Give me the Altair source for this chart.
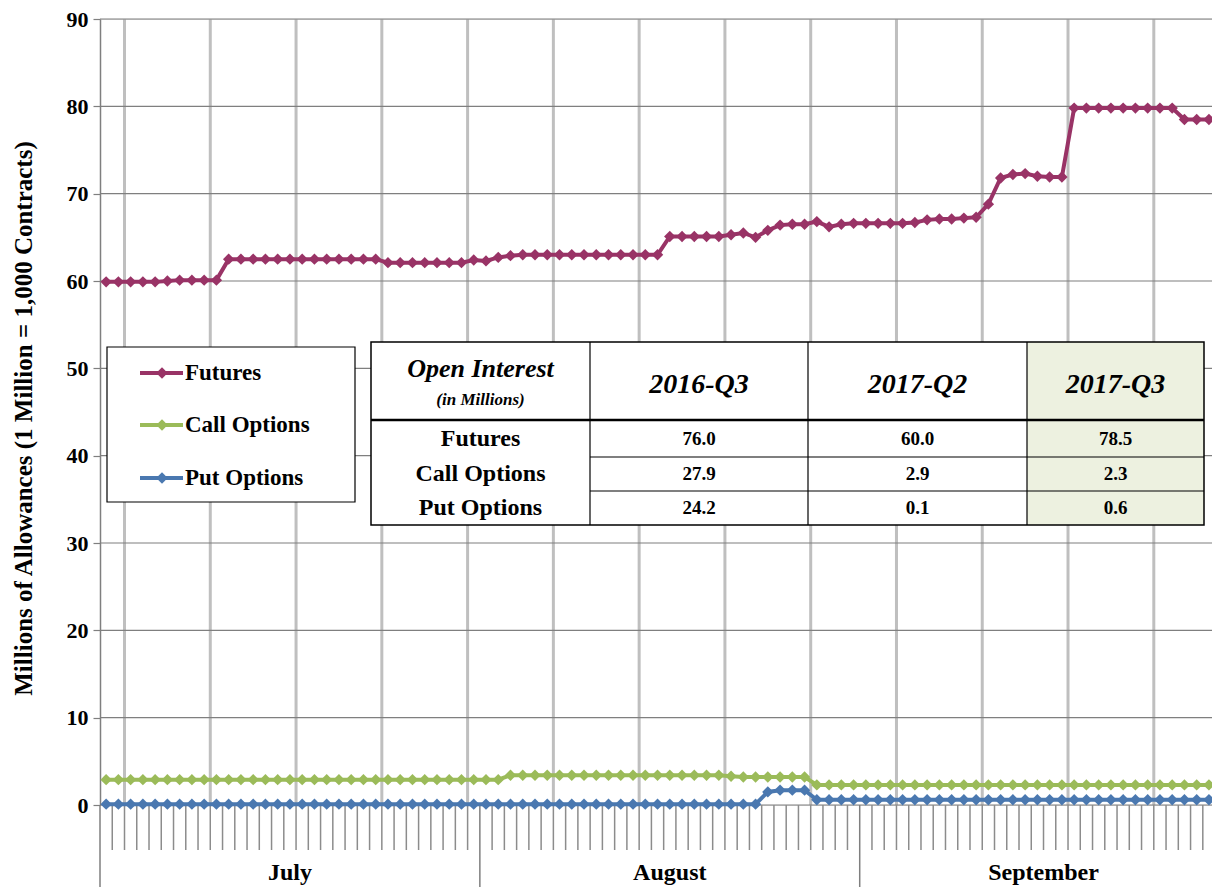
import altair as alt
import pandas as pd

# ---------------- data ----------------
months = ["July", "August", "September"]
month_days = [31, 31, 30]
series_names = ["Futures", "Call Options", "Put Options"]
series_colors = ["#993366", "#9BBB59", "#4A78B0"]

futures = ([59.9, 59.9, 59.9, 59.9, 59.9, 60.0, 60.1, 60.1, 60.1, 60.1]
           + [62.5] * 13 + [62.1] * 7
           + [62.4, 62.3, 62.7, 62.9] + [63.0] * 12
           + [65.1] * 5
           + [65.3, 65.5, 65.0, 65.8, 66.4, 66.5, 66.5, 66.8, 66.2, 66.5, 66.6]
           + [66.6] * 4
           + [66.7, 67.0, 67.1, 67.1, 67.2, 67.3]
           + [68.8, 71.8, 72.2, 72.3, 72.0, 71.9, 71.9]
           + [79.8] * 9 + [78.5] * 4)
calls = [2.9] * 33 + [3.4] * 18 + [3.3] + [3.2] * 6 + [2.3] * 34
puts = [0.1] * 54 + [1.5] + [1.7] * 3 + [0.6] * 34

y_ticks = [0, 10, 20, 30, 40, 50, 60, 70, 80, 90]

table_head = ["2016-Q3", "2017-Q2", "2017-Q3"]
table_rows = ["Futures", "Call Options", "Put Options"]
table_vals = [["76.0", "60.0", "78.5"],
              ["27.9", "2.9", "2.3"],
              ["24.2", "0.1", "0.6"]]

# ---------------- frames ----------------
n_days = sum(month_days)
rows = []
for name, vals in zip(series_names, [futures, calls, puts]):
    for i, v in enumerate(vals):
        rows.append({"day": i + 0.5, "value": v, "series": name})
df = pd.DataFrame(rows)

starts = [sum(month_days[:k]) for k in range(len(months))]
month_df = pd.DataFrame({
    "month": months,
    "mid": [s + d / 2 for s, d in zip(starts, month_days)],
})
sep_df = pd.DataFrame({"b": starts + [n_days]})
tick_df = pd.DataFrame({"b": [b for b in range(1, n_days) if b not in starts]})
week_df = pd.DataFrame({"b": list(range(2, n_days, 7))})
hgrid_df = pd.DataFrame({"v": y_ticks})

W, H = 1112, 786
FONT = "Liberation Serif"

# the visible window of the original chart ends a little before 30 September
xs = alt.Scale(domain=[0, 90.75], nice=False, zero=False)
ys = alt.Scale(domain=[0, 90], nice=False)

# weekly vertical grid
vgrid = alt.Chart(week_df).mark_rule(color="#BFBFBF", strokeWidth=3).encode(
    x=alt.X("b:Q", scale=xs, axis=None),
    y=alt.value(0), y2=alt.value(H))

# horizontal grid
hgrid = alt.Chart(hgrid_df).mark_rule(color="#7F7F7F", strokeWidth=1.2).encode(
    y=alt.Y("v:Q", scale=ys,
            axis=alt.Axis(values=y_ticks, grid=False, domain=True, domainColor="#7F7F7F",
                          domainWidth=1.5, ticks=True, tickSize=7, tickColor="#7F7F7F",
                          tickWidth=1.2, labelFont=FONT, labelFontWeight="bold",
                          labelFontSize=22, labelColor="black", labelPadding=5,
                          title="Millions of Allowances  (1 Million = 1,000 Contracts)",
                          titleFont=FONT, titleFontWeight="bold", titleFontSize=25,
                          titleColor="black", titleAngle=270, titleX=-77, titleY=H / 2 + 6,
                          titleAlign="center", titleBaseline="middle")),
    x=alt.value(0), x2=alt.value(W))

# x axis decorations
day_ticks = alt.Chart(tick_df).mark_rule(color="#8C8C8C", strokeWidth=1.5).encode(
    x=alt.X("b:Q", scale=xs, axis=None), y=alt.value(H), y2=alt.value(H + 45))
month_seps = alt.Chart(sep_df).mark_rule(color="#7F7F7F", strokeWidth=1.5).encode(
    x=alt.X("b:Q", scale=xs, axis=None), y=alt.value(H), y2=alt.value(H + 90))
month_labels = alt.Chart(month_df).mark_text(
    font=FONT, fontWeight="bold", fontSize=24, color="black", baseline="middle").encode(
    x=alt.X("mid:Q", scale=xs, axis=None), y=alt.value(H + 68), text="month:N")

color = alt.Color("series:N", scale=alt.Scale(domain=series_names, range=series_colors),
                  legend=None)
lines = alt.Chart(df).mark_line(strokeWidth=4).encode(
    x=alt.X("day:Q", scale=xs, axis=None), y=alt.Y("value:Q", scale=ys),
    color=color, detail="series:N")
points = alt.Chart(df).mark_point(shape="diamond", filled=True, size=130, opacity=1).encode(
    x=alt.X("day:Q", scale=xs, axis=None), y=alt.Y("value:Q", scale=ys), color=color)

layers = [vgrid, hgrid, day_ticks, month_seps, month_labels, lines, points]

# ---------------- legend (manual box) ----------------
dummy = pd.DataFrame({"a": [0]})
layers.append(alt.Chart(dummy).mark_rect(fill="white", stroke="black", strokeWidth=1.2).encode(
    x=alt.value(7), x2=alt.value(255), y=alt.value(328), y2=alt.value(483)))
leg_y = [354, 406, 459]
for name, col, yy in zip(series_names, series_colors, leg_y):
    layers.append(alt.Chart(dummy).mark_rule(color=col, strokeWidth=4).encode(
        x=alt.value(40), x2=alt.value(83), y=alt.value(yy)))
    layers.append(alt.Chart(dummy).mark_point(shape="diamond", filled=True, size=130,
                                              color=col, opacity=1).encode(
        x=alt.value(62), y=alt.value(yy)))
    layers.append(alt.Chart(dummy).mark_text(text=name, font=FONT, fontWeight="bold",
                                             fontSize=23, align="left", baseline="middle",
                                             color="black").encode(
        x=alt.value(85), y=alt.value(yy)))

# ---------------- table ----------------
tx = [271, 490, 708, 927, 1104]
ty_top, ty_head, ty_bot = 323, 401, 506
row_lines = [438, 472]
row_cy = [420, 455, 489]

layers.append(alt.Chart(dummy).mark_rect(fill="white").encode(
    x=alt.value(tx[0]), x2=alt.value(tx[-1]), y=alt.value(ty_top), y2=alt.value(ty_bot)))
layers.append(alt.Chart(dummy).mark_rect(fill="#EDF1E0").encode(
    x=alt.value(tx[3]), x2=alt.value(tx[4]), y=alt.value(ty_top), y2=alt.value(ty_bot)))
for xv in tx[1:4]:
    layers.append(alt.Chart(dummy).mark_rule(color="black", strokeWidth=1.2).encode(
        x=alt.value(xv), y=alt.value(ty_top), y2=alt.value(ty_bot)))
layers.append(alt.Chart(dummy).mark_rule(color="black", strokeWidth=2.5).encode(
    x=alt.value(tx[0]), x2=alt.value(tx[-1]), y=alt.value(ty_head)))
for yv in row_lines:
    layers.append(alt.Chart(dummy).mark_rule(color="black", strokeWidth=1.2).encode(
        x=alt.value(tx[1]), x2=alt.value(tx[-1]), y=alt.value(yv)))
layers.append(alt.Chart(dummy).mark_rect(fill=None, fillOpacity=0, stroke="black",
                                         strokeWidth=1.5).encode(
    x=alt.value(tx[0]), x2=alt.value(tx[-1]), y=alt.value(ty_top), y2=alt.value(ty_bot)))

cx = [(tx[k] + tx[k + 1]) / 2 for k in range(4)]
layers.append(alt.Chart(dummy).mark_text(text="Open Interest", font=FONT, fontWeight="bold",
                                         fontStyle="italic", fontSize=26, color="black",
                                         baseline="middle").encode(
    x=alt.value(cx[0]), y=alt.value(350)))
layers.append(alt.Chart(dummy).mark_text(text="(in Millions)", font=FONT, fontWeight="bold",
                                         fontStyle="italic", fontSize=17, color="black",
                                         baseline="middle").encode(
    x=alt.value(cx[0]), y=alt.value(381)))
for k, h in enumerate(table_head):
    layers.append(alt.Chart(dummy).mark_text(text=h, font=FONT, fontWeight="bold",
                                             fontStyle="italic", fontSize=28, color="black",
                                             baseline="middle").encode(
        x=alt.value(cx[k + 1]), y=alt.value(366)))
for r, lab in enumerate(table_rows):
    layers.append(alt.Chart(dummy).mark_text(text=lab, font=FONT, fontWeight="bold",
                                             fontSize=24, color="black",
                                             baseline="middle").encode(
        x=alt.value(cx[0]), y=alt.value(row_cy[r])))
    for k, v in enumerate(table_vals[r]):
        layers.append(alt.Chart(dummy).mark_text(text=v, font=FONT, fontWeight="bold",
                                                 fontSize=19, color="black",
                                                 baseline="middle").encode(
            x=alt.value(cx[k + 1]), y=alt.value(row_cy[r])))

chart = alt.layer(*layers).properties(
    width=W, height=H,
    padding={"left": 92, "top": 11, "right": 0, "bottom": 82},
    autosize=alt.AutoSizeParams(type="none"),
).configure_view(strokeWidth=0).configure(background="white")

chart.save("out.html", embed_options={"renderer": "svg", "actions": False})
